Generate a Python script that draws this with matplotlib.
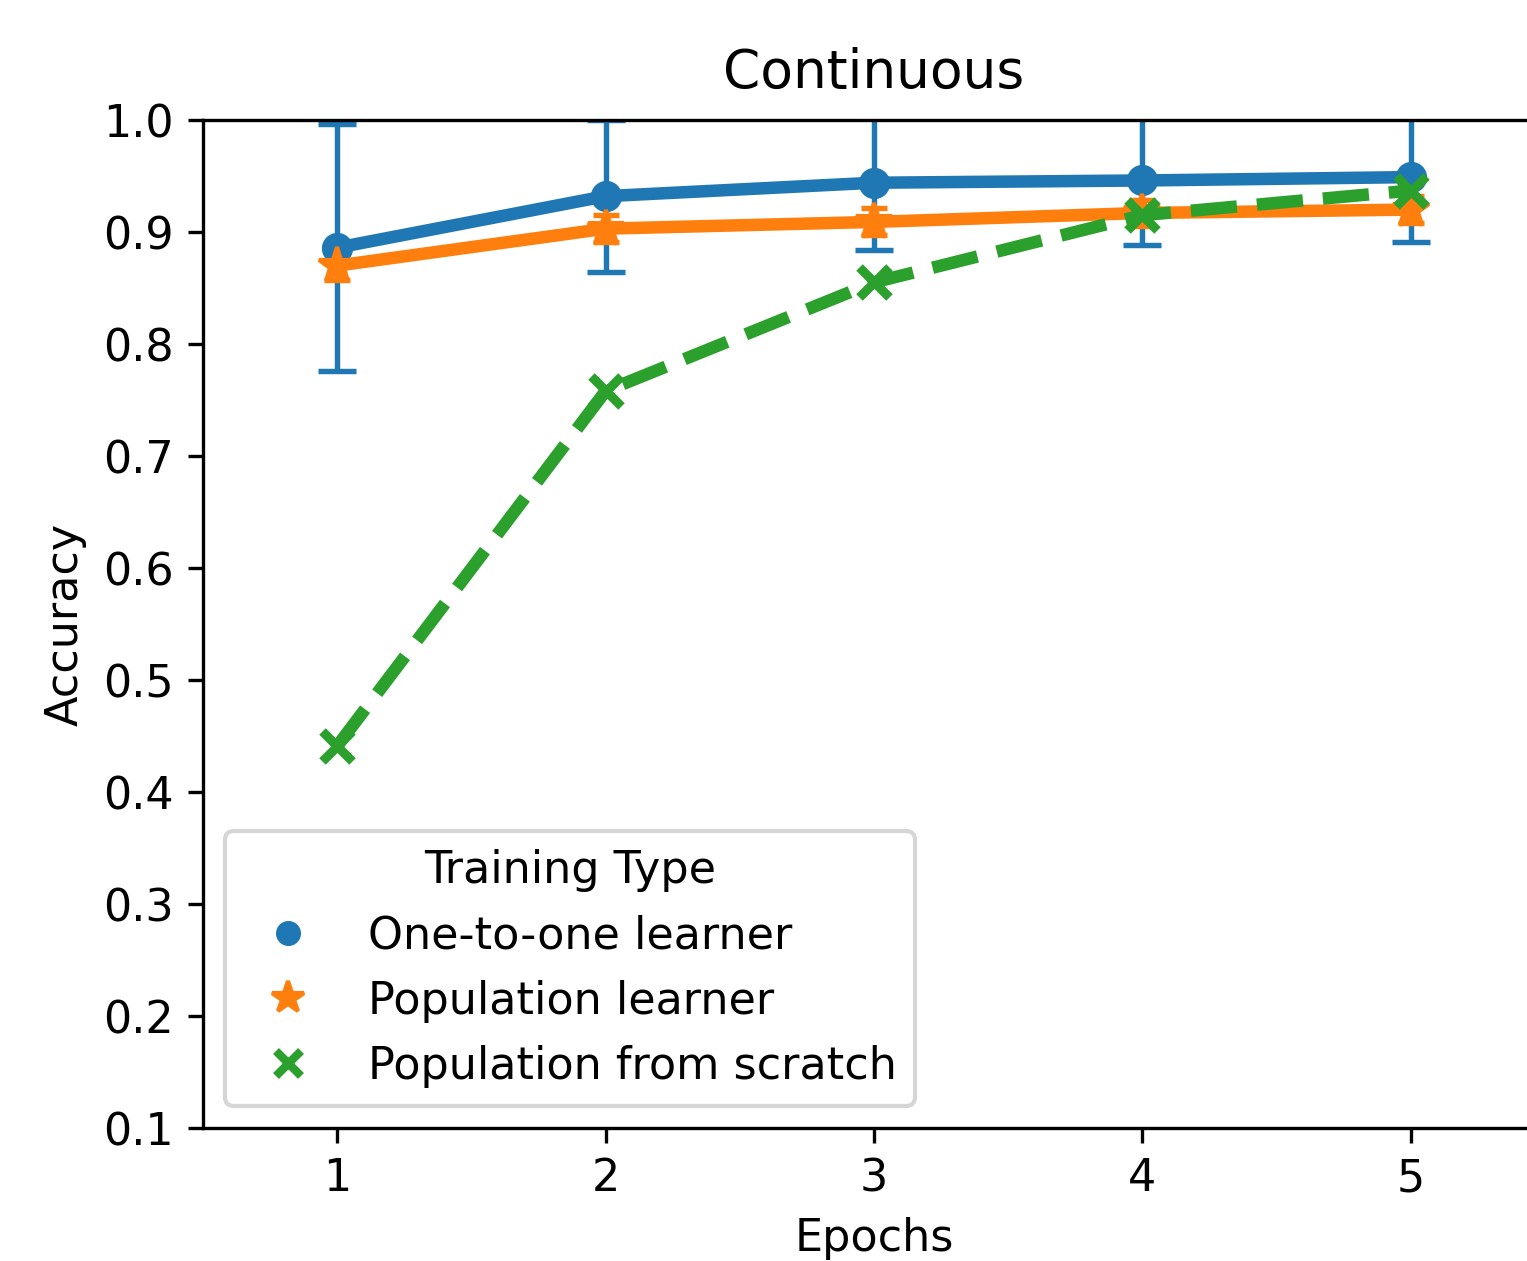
import matplotlib

matplotlib.use("Agg")
import matplotlib.pyplot as plt
from matplotlib.lines import Line2D

epochs = [1, 2, 3, 4, 5]

one_to_one = [0.886, 0.932, 0.944, 0.946, 0.949]
one_to_one_lo = [0.776, 0.864, 0.884, 0.888, 0.891]
one_to_one_hi = [0.996, 1.000, 1.004, 1.004, 1.007]

pop_learner = [0.870, 0.903, 0.909, 0.917, 0.920]
pop_learner_lo = [0.857, 0.891, 0.897, 0.905, 0.908]
pop_learner_hi = [0.884, 0.915, 0.921, 0.929, 0.932]

pop_scratch = [0.441, 0.758, 0.855, 0.915, 0.937]

labels = ["One-to-one learner", "Population learner", "Population from scratch"]
colors = ["#1f77b4", "#ff7f0e", "#2ca02c"]

fs = 10.7

fig = plt.figure(figsize=(1527 / 300, 1261 / 300), dpi=300)
# the original axes runs past the right edge of the picture
ax = fig.add_axes([203 / 1527, 1 - 1128 / 1261, 1342 / 1527, 1008 / 1261])

series = [
    (one_to_one, one_to_one_lo, one_to_one_hi, "o", "-", 6.5, 4.5),
    (pop_learner, pop_learner_lo, pop_learner_hi, "*", "-", 9, 3.2),
    (pop_scratch, None, None, "x", "--", 7, 0),
]
for (y, lo, hi, mk, ls, ms, cs), c in zip(series, colors):
    if lo is not None:
        err = [[v - l for v, l in zip(y, lo)], [h - v for v, h in zip(y, hi)]]
        ax.errorbar(epochs, y, yerr=err, fmt="none", ecolor=c, elinewidth=1.3,
                    capsize=cs, capthick=1.3, zorder=2)
for (y, lo, hi, mk, ls, ms, cs), c in zip(series, colors):
    ax.plot(epochs, y, color=c, marker=mk, linestyle=ls, lw=3.0, ms=ms,
            mew=2.2 if mk == "x" else 1, zorder=3)

ax.set_xlim(0.5, 5.5)
ax.set_ylim(0.1, 1.0)
ax.set_xticks(epochs)
ax.set_yticks([0.1, 0.2, 0.3, 0.4, 0.5, 0.6, 0.7, 0.8, 0.9, 1.0])
ax.tick_params(labelsize=fs)
ax.set_xlabel("Epochs", fontsize=fs)
ax.set_ylabel("Accuracy", fontsize=fs)
ax.set_title("Continuous", fontsize=12.8, pad=7.8)

handles = [
    Line2D([], [], color=colors[0], marker="o", linestyle="none", ms=5),
    Line2D([], [], color=colors[1], marker="*", linestyle="none", ms=8),
    Line2D([], [], color=colors[2], marker="x", linestyle="none", ms=6, mew=2),
]
ax.legend(handles, labels, title="Training Type", loc="lower left",
          fontsize=fs, title_fontsize=fs)

fig.savefig("out.png", dpi=300)
